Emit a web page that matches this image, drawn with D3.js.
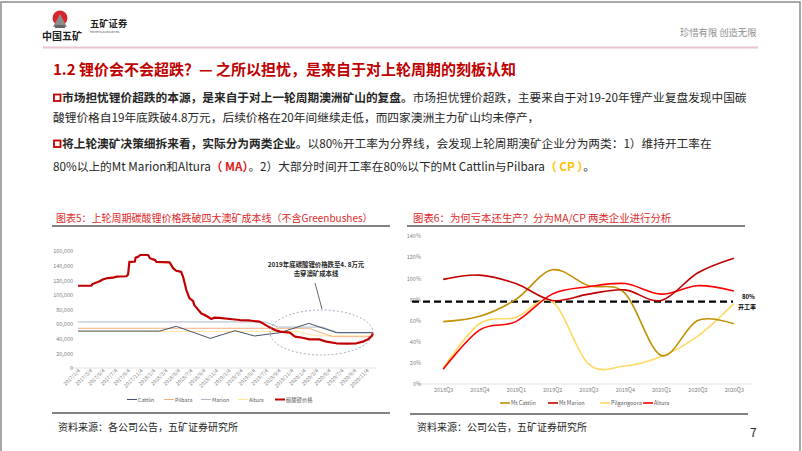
<!DOCTYPE html>
<html><head><meta charset="utf-8">
<script src="https://cdn.jsdelivr.net/npm/d3@7"></script>
<style>
body{margin:0;background:#fff}
svg{display:block}
text{font-family:"Noto Sans CJK SC","Noto Sans",sans-serif}
</style>
</head><body>
<svg id="c" width="802" height="451"></svg>
<script>
// ---------- Left chart data (碳酸锂价格, 元/吨) ----------
const priceDates = ["2017-01-04","2017-03-10","2017-03-16","2017-04-19","2017-05-04","2017-05-28","2017-06-22","2017-07-10","2017-08-27","2017-09-04","2017-09-10","2017-10-07","2017-10-10","2017-10-22","2017-11-01","2017-12-10","2017-12-19","2018-01-13","2018-01-19","2018-03-24","2018-04-10","2018-04-25","2018-05-19","2018-05-28","2018-06-13","2018-06-28","2018-07-16","2018-07-22","2018-08-10","2018-08-25","2018-09-10","2018-09-25","2018-10-13","2018-10-28","2018-11-20","2019-01-10","2019-02-28","2019-04-15","2019-06-04","2019-06-19","2019-07-22","2019-08-16","2019-09-10","2019-10-28","2019-11-22","2019-12-28","2020-01-31","2020-03-19","2020-04-22","2020-06-10","2020-07-28","2020-09-15","2020-10-16","2020-11-10","2020-11-28","2020-12-04"];
const priceValues = [112500,112500,115000,118700,121000,123000,123500,125000,125500,128000,145000,145500,151000,152000,154500,154500,150000,147500,145000,144500,136500,133000,131500,125000,107000,95500,91500,86000,79500,74500,72500,70000,67000,69000,68500,67000,65600,65000,63300,61000,55600,52000,49700,48300,42800,41400,39200,39200,36000,33800,33300,33800,36000,39200,43800,47400];

const cattlinDates = ["2017-01-04","2018-02-04","2018-04-25","2018-10-07","2019-02-04","2019-05-10","2019-09-10","2020-01-28","2020-06-10","2020-12-04"];
const cattlinCost  = [50500,50500,57000,40500,51000,43800,48300,61000,48300,48300];
const pilbaraDates = ["2017-01-04","2020-01-28","2020-05-22","2020-12-04"];
const pilbaraCost  = [54300,54300,42800,42800];
const marionDates  = ["2017-01-04","2019-07-01","2019-09-01","2020-04-01","2020-06-20","2020-12-04"];
const marionCost   = [63000,63000,56000,56000,48300,48300];
const alturaDates  = ["2017-01-04","2019-12-01","2020-03-01","2020-12-04"];
const alturaCost   = [50000,50000,44000,44000];

const leftTickLabels = ["2017/1/4","2017/3/4","2017/5/4","2017/7/4","2017/9/4","2017/11/4","2018/1/4","2018/3/4","2018/5/4","2018/7/4","2018/9/4","2018/11/4","2019/1/4","2019/3/4","2019/5/4","2019/7/4","2019/9/4","2019/11/4","2020/1/4","2020/3/4","2020/5/4","2020/7/4","2020/9/4","2020/11/4"];
const leftYTicks = [0,20000,40000,60000,80000,100000,120000,140000,160000];

// ---------- Right chart data (开工率 %) ----------
const quarters = ["2018Q3","2018Q4","2019Q1","2019Q2","2019Q3","2019Q4","2020Q1","2020Q2","2020Q3"];
const mtCattlin   = [59,64,80,108,93,86,27,60,57];
const mtMarion    = [99,103,95,79,85,89,79,105,119];
const pilgangoora = [15,57,63,78,19,17,26,45,76];
const altura      = [14,51,59,85,92,95,85,93,88];
const rightYTicks = [0,20,40,60,80,100,120,140];
const thresholdLine = 78;

// ---------- drawing ----------
const svg = d3.select("#c");
const parseD = s => { const p = s.split(/[-\/]/).map(Number); return new Date(p[0], p[1]-1, p[2]); };

// frame
svg.append("rect").attr("x",1).attr("y",2).attr("width",799).attr("height",452)
  .attr("fill","none").attr("stroke","#8c8c8c").attr("stroke-width",1.5);

// header
const logo = svg.append("g");
logo.append("circle").attr("cx",60).attr("cy",18).attr("r",7.5).attr("fill","#d7262b");
logo.append("path").attr("d","M53,27 L60,14 L67,27 Z").attr("fill","#8c8c8c");
logo.append("rect").attr("x",55).attr("y",25).attr("width",10).attr("height",3).attr("fill","#666");
svg.append("text").attr("x",42).attr("y",40).attr("font-size",10).attr("font-weight","bold").attr("fill","#222").text("中国五矿");
svg.append("text").attr("x",90).attr("y",27).attr("font-size",9.3).attr("font-weight","bold").attr("fill","#222").text("五矿证券");
svg.append("text").attr("x",90).attr("y",33).attr("font-size",2.6).attr("fill","#444").text("MINMETALS SECURITIES");
svg.append("text").attr("x",680).attr("y",36).attr("font-size",9.3).attr("fill","#8c8c8c").text("珍惜有限 创造无限");
svg.append("line").attr("x1",43).attr("x2",758).attr("y1",47.5).attr("y2",47.5).attr("stroke","#e8c6cc").attr("stroke-width",2);

// title
svg.append("text").attr("x",53).attr("y",75).attr("font-size",15).attr("font-weight","bold").attr("fill","#c00000")
  .text("1.2 锂价会不会超跌？— 之所以担忧，是来自于对上轮周期的刻板认知");

// paragraphs
function bullet(y){ svg.append("rect").attr("x",54).attr("y",y-7.5).attr("width",6.5).attr("height",6.5).attr("fill","none").attr("stroke","#c00000").attr("stroke-width",1.8); }
function para(x,y,parts){
  const t = svg.append("text").attr("x",x).attr("y",y).attr("font-size",11.7).attr("fill","#262626");
  parts.forEach(p => t.append("tspan").attr("font-weight",p.b?"bold":"normal").attr("fill",p.c||"#262626").text(p.t));
  return t;
}
bullet(102);
para(62,102,[{t:"市场担忧锂价超跌的本源，是来自于对上一轮周期澳洲矿山的复盘。",b:1},{t:"市场担忧锂价超跌，主要来自于对19-20年锂产业复盘发现中国碳"}]);
para(53,122,[{t:"酸锂价格自19年底跌破4.8万元，后续价格在20年间继续走低，而四家澳洲主力矿山均未停产，"}]);
bullet(148);
para(62,148,[{t:"将上轮澳矿决策细拆来看，实际分为两类企业。",b:1},{t:"以80%开工率为分界线，会发现上轮周期澳矿企业分为两类：1）维持开工率在"}]);
para(53,171,[{t:"80%以上的Mt  Marion和Altura"},{t:"（ MA）",b:1,c:"#e02020"},{t:"。2）大部分时间开工率在80%以下的Mt  Cattlin与Pilbara"},{t:"（ CP ）",b:1,c:"#ffc000"},{t:"。"}]);

// chart titles & separators
svg.append("text").attr("x",56).attr("y",222).attr("font-size",10).attr("fill","#e02828").text("图表5：上轮周期碳酸锂价格跌破四大澳矿成本线（不含Greenbushes）");
svg.append("text").attr("x",413).attr("y",222).attr("font-size",10.4).attr("fill","#e02828").text("图表6：为何亏本还生产？分为MA/CP 两类企业进行分析");
[[52,390,226],[407,745,226],[52,390,413],[410,748,414]].forEach(d=>
  svg.append("line").attr("x1",d[0]).attr("x2",d[1]).attr("y1",d[2]).attr("y2",d[2]).attr("stroke","#595959").attr("stroke-width",1.5));
svg.append("text").attr("x",58).attr("y",431).attr("font-size",10).attr("fill","#262626").text("资料来源：各公司公告，五矿证券研究所");
svg.append("text").attr("x",417).attr("y",431).attr("font-size",10).attr("fill","#262626").text("资料来源：公司公告，五矿证券研究所");
svg.append("text").attr("x",750).attr("y",437).attr("font-size",12).attr("fill","#262626").text("7");

// ---------- Left chart ----------
const xL = d3.scaleTime().domain([parseD("2017-01-04"), parseD("2020-12-04")]).range([78,373]);
const yL = d3.scaleLinear().domain([0,160000]).range([368,251]);
const L = svg.append("g");
L.append("line").attr("x1",70).attr("x2",376).attr("y1",yL(0)).attr("y2",yL(0)).attr("stroke","#d9d9d9").attr("stroke-width",0.8);
const yAxisL = d3.axisLeft(yL).tickValues(leftYTicks).tickSize(0).tickPadding(4);
const gy = L.append("g").attr("transform","translate(77,0)").call(yAxisL);
gy.select(".domain").remove();
gy.selectAll("text").attr("font-size",5.5).attr("fill","#7f7f7f").attr("font-family","Noto Sans");
const xAxisL = d3.axisBottom(xL).tickValues(leftTickLabels.map(parseD)).tickSize(0).tickFormat((d,i)=>leftTickLabels[i]);
const gx = L.append("g").attr("transform",`translate(0,${yL(0)})`).call(xAxisL);
gx.select(".domain").remove();
gx.selectAll(".tick text").attr("font-size",5.2).attr("fill","#7f7f7f").attr("font-family","Noto Sans")
  .attr("text-anchor","end").attr("dy",0).attr("x",0).attr("y",0).attr("transform","translate(2,3) rotate(-45)");

const lineL = d3.line().x(d=>xL(d[0])).y(d=>yL(d[1]));
const costSeries = [
  {name:"Cattlin", d:cattlinDates, v:cattlinCost, c:"#44546a", w:1},
  {name:"Pilbara", d:pilbaraDates, v:pilbaraCost, c:"#f4b183", w:1},
  {name:"Marion",  d:marionDates,  v:marionCost,  c:"#adb9ca", w:1},
  {name:"Altura",  d:alturaDates,  v:alturaCost,  c:"#ffe699", w:1}
];
[costSeries[3],costSeries[1],costSeries[2],costSeries[0]].forEach(s=>{
  L.append("path").attr("d",lineL(s.d.map((d,i)=>[parseD(d),s.v[i]]))).attr("fill","none").attr("stroke",s.c).attr("stroke-width",s.w);
});
L.append("path").attr("d",lineL(priceDates.map((d,i)=>[parseD(d),priceValues[i]]))).attr("fill","none").attr("stroke","#c00000").attr("stroke-width",2.2).attr("stroke-linejoin","round");

// annotation
L.append("ellipse").attr("cx",321.5).attr("cy",332.5).attr("rx",51.5).attr("ry",22.5).attr("fill","none").attr("stroke","#8497b0").attr("stroke-width",0.8).attr("stroke-dasharray","2,2");
L.append("line").attr("x1",315).attr("y1",283).attr("x2",322).attr("y2",309).attr("stroke","#404040").attr("stroke-width",0.8);
L.append("text").attr("x",316).attr("y",267).attr("text-anchor","middle").attr("font-size",6.4).attr("font-weight","bold").attr("fill","#262626").text("2019年底碳酸锂价格跌至4. 8万元");
L.append("text").attr("x",316).attr("y",276).attr("text-anchor","middle").attr("font-size",6.4).attr("font-weight","bold").attr("fill","#262626").text("击穿澳矿成本线");

// left legend
const legL = [
  {name:"Cattlin", c:"#44546a", x:127, w:1},
  {name:"Pilbara", c:"#f4b183", x:164, w:1},
  {name:"Marion",  c:"#adb9ca", x:201, w:1},
  {name:"Altura",  c:"#ffe699", x:238, w:1},
  {name:"碳酸锂价格", c:"#c00000", x:275, w:2}
];
legL.forEach(l=>{
  L.append("line").attr("x1",l.x).attr("x2",l.x+10).attr("y1",399.5).attr("y2",399.5).attr("stroke",l.c).attr("stroke-width",l.w);
  L.append("text").attr("x",l.x+11).attr("y",401.5).attr("font-size",5.3).attr("fill","#595959")
    .attr("font-family", l.name==="碳酸锂价格" ? "Noto Sans CJK SC" : "DejaVu Sans Mono").text(l.name);
});

// ---------- Right chart ----------
const xR = d3.scalePoint().domain(quarters).range([425,752]).padding(0.5);
const yR = d3.scaleLinear().domain([0,140]).range([384,236]);
const R = svg.append("g");
R.append("line").attr("x1",418).attr("x2",752).attr("y1",yR(0)).attr("y2",yR(0)).attr("stroke","#d9d9d9").attr("stroke-width",0.8);
const gyR = R.append("g").attr("transform","translate(421,0)").call(d3.axisLeft(yR).tickValues(rightYTicks).tickSize(0).tickPadding(0).tickFormat(d=>d+"%"));
gyR.select(".domain").remove();
gyR.selectAll("text").attr("font-size",5.5).attr("fill","#7f7f7f").attr("font-family","Noto Sans");
const gxR = R.append("g").attr("transform",`translate(0,${yR(0)})`).call(d3.axisBottom(xR).tickSize(0).tickPadding(4));
gxR.select(".domain").remove();
gxR.selectAll("text").attr("font-size",5.5).attr("fill","#7f7f7f").attr("font-family","Noto Sans");

const lineR = d3.line().x((d,i)=>xR(quarters[i])).y(d=>yR(d)).curve(d3.curveCardinal.tension(0));
R.append("line").attr("x1",412).attr("x2",733).attr("y1",yR(thresholdLine)).attr("y2",yR(thresholdLine))
  .attr("stroke","#000").attr("stroke-width",2.2).attr("stroke-dasharray","7,4");
const rs = [
  {name:"Mt Cattlin", v:mtCattlin, c:"#bf9000"},
  {name:"Mt Marion", v:mtMarion, c:"#c00000"},
  {name:"Pilgangoora", v:pilgangoora, c:"#ffd966"},
  {name:"Altura", v:altura, c:"#ff0000"}
];
[rs[2],rs[0],rs[3],rs[1]].forEach(s=>{
  R.append("path").attr("d",lineR(s.v)).attr("fill","none").attr("stroke",s.c).attr("stroke-width",1.6);
});
R.append("text").attr("x",742).attr("y",299).attr("font-size",6).attr("font-weight","bold").attr("fill","#000").text("80%");
R.append("text").attr("x",738).attr("y",308.5).attr("font-size",6).attr("font-weight","bold").attr("fill","#000").text("开工率");

const legR = [{x:500},{x:548},{x:600},{x:643}];
rs.forEach((s,i)=>{
  const x = legR[i].x;
  R.append("line").attr("x1",x).attr("x2",x+10).attr("y1",403).attr("y2",403).attr("stroke",s.c).attr("stroke-width",1.6);
  R.append("text").attr("x",x+11).attr("y",405).attr("font-size",5.5).attr("fill","#595959").attr("font-family","Noto Sans").text(s.name);
});
</script>
</body></html>
